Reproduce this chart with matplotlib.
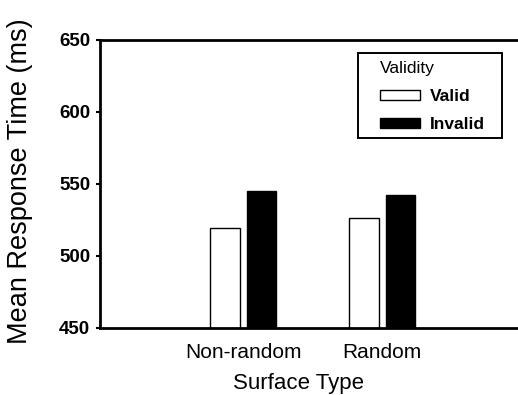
import numpy as np
import matplotlib
matplotlib.use("Agg")
import matplotlib.pyplot as plt
from matplotlib.patches import Patch, Rectangle

plt.rcParams['font.family'] = ['Liberation Sans', 'DejaVu Sans']

# Data
surface_types = ["Non-random", "Random"]
valid_rt = [519, 526]
invalid_rt = [545, 542]
y_ticks = [450, 500, 550, 600, 650]

fig = plt.figure(figsize=(5.18, 3.95), dpi=100)
ax = fig.add_axes([0.193, 0.170, 0.805, 0.730])

x = np.arange(len(surface_types))
width = 0.21
offset = 0.13

ax.bar(x - offset, valid_rt, width, color="white", edgecolor="black",
       linewidth=1.0, label="Valid")
ax.bar(x + offset, invalid_rt, width, color="black", edgecolor="black",
       linewidth=1.0, label="Invalid")

ax.set_xlim(-1.03, 1.97)
ax.set_ylim(450, 650)
ax.set_yticks(y_ticks)
ax.set_yticklabels([str(t) for t in y_ticks], fontsize=13.5, fontweight="bold")
ax.set_xticks(x)
ax.set_xticklabels(surface_types, fontsize=15)
ax.tick_params(axis="x", length=0, pad=11)
ax.tick_params(axis="y", direction="out", length=3, width=1.5, pad=4)

ax.spines["right"].set_visible(False)
for side in ["left", "top", "bottom"]:
    ax.spines[side].set_linewidth(2.0)

ax.set_ylabel("Mean Response Time (ms)", fontsize=19.5)
ax.yaxis.set_label_coords(-0.16, 0.51)
ax.set_xlabel("Surface Type", fontsize=16)
ax.xaxis.set_label_coords(0.475, -0.158)

# legend: entries without frame, box drawn separately (wider side padding)
handles = [Patch(facecolor="white", edgecolor="black", label="Valid"),
           Patch(facecolor="black", edgecolor="black", label="Invalid")]
leg = ax.legend(handles=handles, title="Validity", loc="upper left",
                bbox_to_anchor=(0.671, 0.925), fontsize=12.5,
                title_fontsize=12.5, frameon=False,
                handlelength=2.3, handleheight=0.55,
                handletextpad=0.6, borderpad=0, labelspacing=0.75,
                borderaxespad=0)
leg._legend_box.align = "left"
for t in leg.get_texts():
    t.set_fontweight("bold")
ax.add_patch(Rectangle((0.619, 0.659), 0.345, 0.294, transform=ax.transAxes,
                       facecolor="none", edgecolor="black", linewidth=1.4,
                       clip_on=False))

fig.savefig("out.png", dpi=100)
